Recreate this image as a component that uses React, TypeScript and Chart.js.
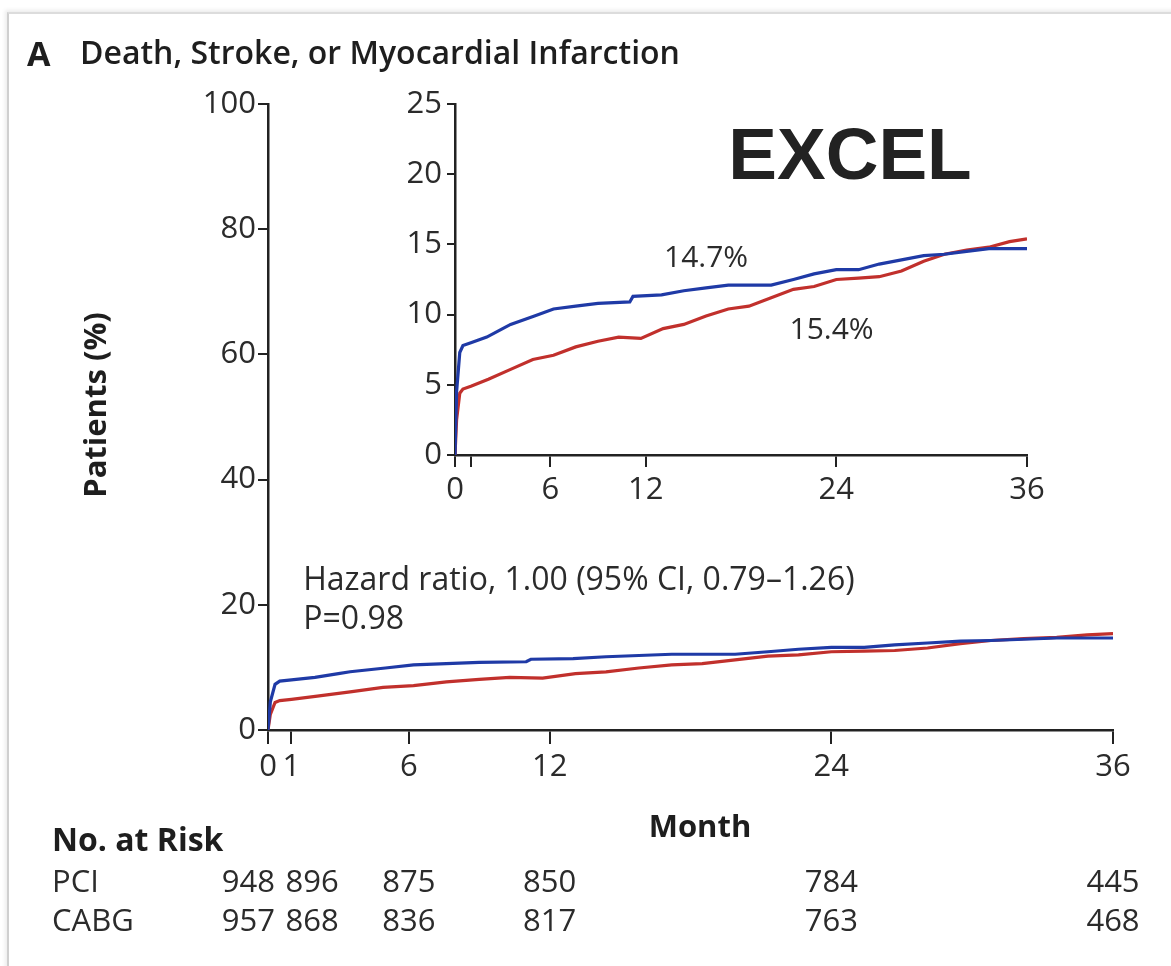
import React, { useEffect, useRef } from "react";
import { Chart, registerables } from "chart.js";

Chart.register(...registerables);

// ---- data ----
const pciMonths = [0, 0.1, 0.3, 0.5, 1, 2, 3, 3.5, 5, 6.2, 7.6, 9, 11, 11.2, 13, 14.4, 15.8, 17.2, 19.9, 21.3, 22.6, 24, 25.4, 26.7, 28.1, 29.5, 30.8, 32.2, 33.6, 36];
const pciPct = [0, 4.5, 7.3, 7.8, 8.0, 8.4, 9.0, 9.3, 9.9, 10.4, 10.6, 10.8, 10.9, 11.3, 11.4, 11.7, 11.9, 12.1, 12.1, 12.5, 12.9, 13.2, 13.2, 13.6, 13.9, 14.2, 14.3, 14.5, 14.7, 14.7];
const cabgMonths = [0, 0.1, 0.3, 0.5, 1, 2.1, 3.5, 4.9, 6.2, 7.6, 9, 10.3, 11.7, 13.1, 14.4, 15.8, 17.2, 18.5, 19.9, 21.3, 22.6, 24, 25.4, 26.7, 28.1, 29.5, 30.8, 32.2, 33.6, 34.9, 36];
const cabgPct = [0, 2.5, 4.4, 4.7, 4.9, 5.4, 6.1, 6.8, 7.1, 7.7, 8.1, 8.4, 8.3, 9.0, 9.3, 9.9, 10.4, 10.6, 11.2, 11.8, 12.0, 12.5, 12.6, 12.7, 13.1, 13.8, 14.3, 14.6, 14.8, 15.2, 15.4];

const xTickValues = [0, 1, 6, 12, 24, 36];
const mainYTicks = [0, 20, 40, 60, 80, 100];
const insetYTicks = [0, 5, 10, 15, 20, 25];

const riskMonths = [0, 1, 6, 12, 24, 36];
const pciRisk = [948, 896, 875, 850, 784, 445];
const cabgRisk = [957, 868, 836, 817, 763, 468];

const titleText = "Death, Stroke, or Myocardial Infarction";
const hazardText = "Hazard ratio, 1.00 (95% CI, 0.79\u20131.26)";
const pText = "P=0.98";
const pciFinal = "14.7%";
const cabgFinal = "15.4%";

// ---- styling ----
const BLUE = "#1f3aa6";
const RED = "#c1302c";
const AXIS = "#222";
const TEXT = "#2b2b2b";
const FONT = "'Open Sans', 'DejaVu Sans', sans-serif";

function toPoints(xs: number[], ys: number[]) {
  return xs.map((x, i) => ({ x, y: ys[i] }));
}

function datasets() {
  return [
    { label: "PCI", data: toPoints(pciMonths, pciPct), borderColor: BLUE, borderWidth: 3.2, pointRadius: 0, tension: 0 },
    { label: "CABG", data: toPoints(cabgMonths, cabgPct), borderColor: RED, borderWidth: 3.2, pointRadius: 0, tension: 0 },
  ];
}

function xScale(opts: { width: number; tick: number; pad: number; labelOne: boolean; height: number }) {
  return {
    type: "linear" as const,
    min: 0,
    max: 36,
    afterBuildTicks: (s: any) => {
      s.ticks = xTickValues.map((v) => ({ value: v }));
    },
    afterFit: (s: any) => {
      s.height = opts.height;
    },
    ticks: {
      autoSkip: false,
      maxRotation: 0,
      padding: opts.pad,
      color: TEXT,
      font: { family: FONT, size: 31 },
      callback: (v: any) => (v === 1 && !opts.labelOne ? "" : String(v)),
    },
    grid: { drawOnChartArea: false, drawTicks: true, tickLength: opts.tick, color: AXIS, lineWidth: 2 },
    border: { display: true, color: AXIS, width: 2.5 },
  };
}

function yScale(opts: { max: number; values: number[]; width: number; tick: number; pad: number }) {
  return {
    type: "linear" as const,
    min: 0,
    max: opts.max,
    afterBuildTicks: (s: any) => {
      s.ticks = opts.values.map((v) => ({ value: v }));
    },
    afterFit: (s: any) => {
      s.width = opts.width;
    },
    ticks: {
      padding: opts.pad,
      color: TEXT,
      font: { family: FONT, size: 31 },
    },
    grid: { drawOnChartArea: false, drawTicks: true, tickLength: opts.tick, color: AXIS, lineWidth: 2 },
    border: { display: true, color: AXIS, width: 2.5 },
  };
}

const mainTextPlugin = {
  id: "mainText",
  afterDraw(chart: any) {
    const { ctx } = chart;
    const x = chart.scales.x;
    const y = chart.scales.y;
    ctx.save();
    ctx.fillStyle = "#1e1e1e";
    ctx.textBaseline = "middle";
    ctx.textAlign = "left";
    // panel title
    ctx.font = `bold 34px ${FONT}`;
    ctx.fillText("A", 27, 56);
    ctx.font = `600 32px ${FONT}`;
    ctx.fillText(titleText, 80, 55);
    // EXCEL
    ctx.font = "bold 73px 'Liberation Sans', Arial, sans-serif";
    ctx.textAlign = "center";
    ctx.fillStyle = "#222";
    ctx.fillText("EXCEL", 850, 159);
    // y title
    ctx.save();
    ctx.translate(97, 405);
    ctx.rotate(-Math.PI / 2);
    ctx.font = `bold 31px ${FONT}`;
    ctx.fillStyle = "#1e1e1e";
    ctx.fillText("Patients (%)", 0, 0);
    ctx.restore();
    // hazard ratio
    ctx.fillStyle = TEXT;
    ctx.textAlign = "left";
    ctx.font = `32px ${FONT}`;
    ctx.fillText(hazardText, x.getPixelForValue(1.5), y.getPixelForValue(23.8));
    ctx.fillText(pText, x.getPixelForValue(1.5), y.getPixelForValue(17.6));
    // Month
    ctx.fillStyle = "#1e1e1e";
    ctx.font = `bold 31px ${FONT}`;
    ctx.textAlign = "center";
    ctx.fillText("Month", 700, 828);
    // No. at risk
    ctx.textAlign = "left";
    ctx.font = `bold 32px ${FONT}`;
    ctx.fillText("No. at Risk", 52, 842);
    ctx.font = `31px ${FONT}`;
    ctx.fillStyle = TEXT;
    const rows: [string, number[], number][] = [
      ["PCI", pciRisk, 883],
      ["CABG", cabgRisk, 922],
    ];
    rows.forEach(([name, vals, yy]) => {
      ctx.textAlign = "left";
      ctx.fillText(name, 52, yy);
      vals.forEach((v, i) => {
        const px = x.getPixelForValue(riskMonths[i]);
        if (i === 0) {
          ctx.textAlign = "right";
          ctx.fillText(String(v), px + 7, yy);
        } else if (i === 1) {
          ctx.textAlign = "left";
          ctx.fillText(String(v), px - 6, yy);
        } else {
          ctx.textAlign = "center";
          ctx.fillText(String(v), px, yy);
        }
      });
    });
    ctx.restore();
  },
};

const insetTextPlugin = {
  id: "insetText",
  afterDraw(chart: any) {
    const { ctx } = chart;
    const x = chart.scales.x;
    const y = chart.scales.y;
    ctx.save();
    ctx.fillStyle = TEXT;
    ctx.textBaseline = "middle";
    ctx.textAlign = "center";
    ctx.font = `30px ${FONT}`;
    ctx.fillText(pciFinal, x.getPixelForValue(15.8), y.getPixelForValue(14.0));
    ctx.fillText(cabgFinal, x.getPixelForValue(23.7), y.getPixelForValue(8.9));
    ctx.restore();
  },
};

export default function App() {
  const mainRef = useRef<HTMLCanvasElement | null>(null);
  const insetRef = useRef<HTMLCanvasElement | null>(null);

  useEffect(() => {
    const main = new Chart(mainRef.current as HTMLCanvasElement, {
      type: "line",
      data: { datasets: datasets() as any },
      options: {
        responsive: false,
        animation: false,
        layout: { padding: { left: 0, right: 58, top: 104, bottom: 176 } },
        plugins: { legend: { display: false }, tooltip: { enabled: false }, title: { display: false } },
        scales: {
          x: xScale({ width: 0, tick: 14, pad: 5, labelOne: true, height: 60 }) as any,
          y: yScale({ max: 100, values: mainYTicks, width: 268, tick: 10, pad: 2 }) as any,
        },
      },
      plugins: [mainTextPlugin],
    });
    const inset = new Chart(insetRef.current as HTMLCanvasElement, {
      type: "line",
      data: { datasets: datasets() as any },
      options: {
        responsive: false,
        animation: false,
        layout: { padding: { left: 0, right: 33, top: 24, bottom: 15 } },
        plugins: { legend: { display: false }, tooltip: { enabled: false }, title: { display: false } },
        scales: {
          x: xScale({ width: 0, tick: 12, pad: 5, labelOne: false, height: 60 }) as any,
          y: yScale({ max: 25, values: insetYTicks, width: 115, tick: 8, pad: 5 }) as any,
        },
      },
      plugins: [insetTextPlugin],
    });
    return () => {
      main.destroy();
      inset.destroy();
    };
  }, []);

  return (
    <div style={{ position: "absolute", left: 0, top: 0, width: 1171, height: 966, background: "#fff", overflow: "hidden" }}>
      <div
        style={{
          position: "absolute",
          left: 7,
          top: 12,
          width: 1180,
          height: 980,
          borderLeft: "2px solid #cfcfcf",
          borderTop: "2px solid #dcdcdc",
          boxShadow: "-2px -2px 4px rgba(0,0,0,0.08)",
        }}
      />
      <canvas ref={mainRef} width={1171} height={966} style={{ position: "absolute", left: 0, top: 0 }} />
      <canvas ref={insetRef} width={720} height={450} style={{ position: "absolute", left: 340, top: 80 }} />
    </div>
  );
}
